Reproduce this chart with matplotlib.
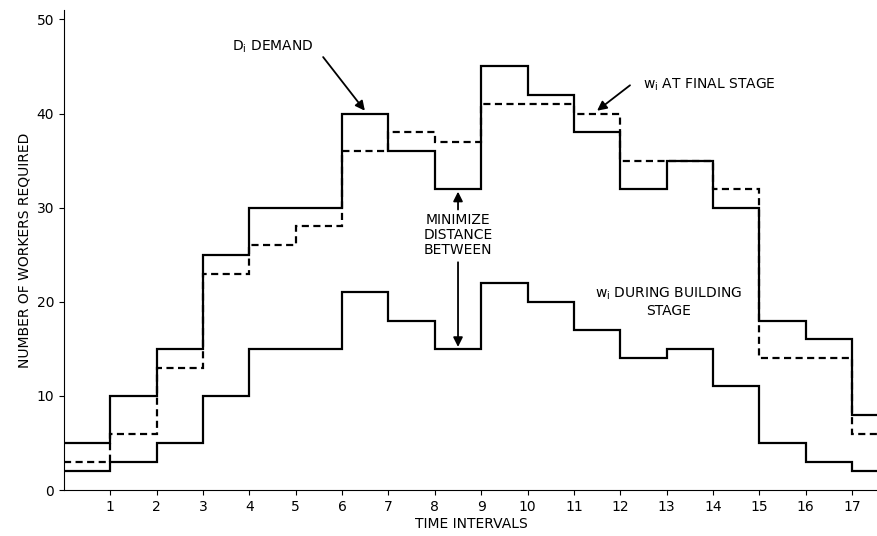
import numpy as np
import matplotlib.pyplot as plt

# workers per time interval (interval i runs from i to i+1)
demand = [5, 10, 15, 25, 30, 30, 40, 36, 32, 45, 42, 38, 32, 35, 30, 18, 16, 8]
final_stage = [3, 6, 13, 23, 26, 28, 36, 38, 37, 41, 41, 40, 35, 35, 32, 14, 14, 6]
building_stage = [2, 3, 5, 10, 15, 15, 21, 18, 15, 22, 20, 17, 14, 15, 11, 5, 3, 2]
x_ticks = list(range(1, 18))
y_ticks = [0, 10, 20, 30, 40, 50]

sub_i = r"$\mathregular{_i}$"

fig = plt.figure(figsize=(8.78, 5.36), dpi=100)
ax = fig.add_axes([64 / 878, 46 / 536, 1 - 64 / 878, 480 / 536])

edges = np.arange(len(demand) + 1)
ax.stairs(demand, edges, baseline=None, color="black", lw=1.6)
ax.stairs(building_stage, edges, baseline=None, color="black", lw=1.6)
ax.stairs(final_stage, edges, baseline=None, color="black", lw=1.6,
          linestyle=(0, (3.2, 2)))

ax.set_xlim(0, 17.56)
ax.set_ylim(0, 51)
ax.set_xticks(x_ticks)
ax.set_yticks(y_ticks)
ax.spines["top"].set_visible(False)
ax.spines["right"].set_visible(False)
ax.set_xlabel("TIME INTERVALS", labelpad=2)
ax.set_ylabel("NUMBER OF WORKERS REQUIRED")

arrow = dict(arrowstyle="-|>", color="black", lw=1.3, mutation_scale=14,
             shrinkA=0, shrinkB=0)

ax.text(4.5, 47.1, "D" + sub_i + " DEMAND", ha="center", va="center", fontsize=10)
ax.annotate("", xy=(6.49, 40.3), xytext=(5.59, 46.0), arrowprops=arrow)

ax.text(12.49, 43.1, "w" + sub_i + " AT FINAL STAGE", ha="left", va="center", fontsize=10)
ax.annotate("", xy=(11.5, 40.3), xytext=(12.21, 43.0), arrowprops=arrow)

ax.text(8.5, 27.1, "MINIMIZE\nDISTANCE\nBETWEEN", ha="center", va="center",
        fontsize=10, linespacing=1.1)
ax.annotate("", xy=(8.5, 31.7), xytext=(8.5, 29.8), arrowprops=arrow)
ax.annotate("", xy=(8.5, 15.2), xytext=(8.5, 24.2), arrowprops=arrow)

ax.text(13.05, 20.0, "w" + sub_i + " DURING BUILDING\nSTAGE", ha="center", va="center",
        fontsize=10, linespacing=1.1)

fig.savefig("out.png", dpi=100)
